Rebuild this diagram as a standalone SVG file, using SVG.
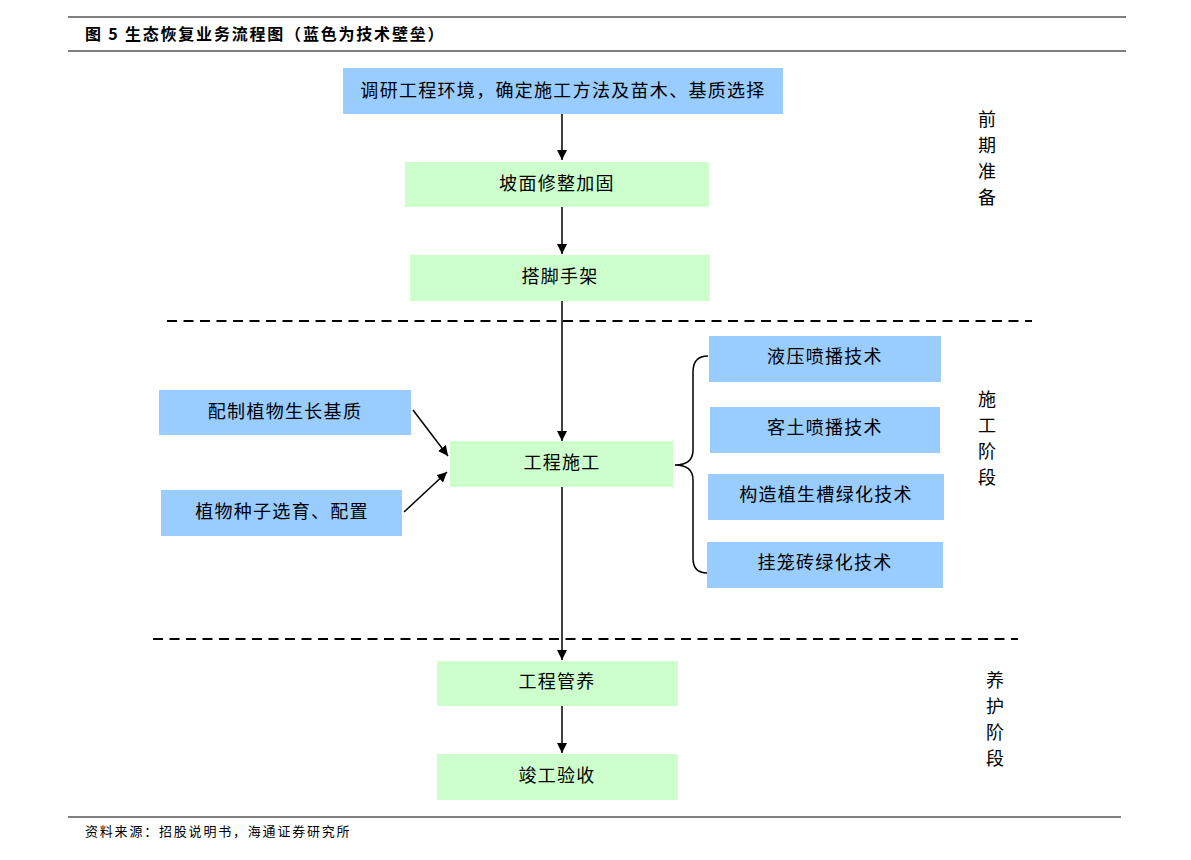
<svg xmlns="http://www.w3.org/2000/svg" width="1191" height="860" viewBox="0 0 1191 860">
<defs>
<marker id="ah" viewBox="0 0 10 10" refX="10" refY="5" markerWidth="10" markerHeight="10" markerUnits="userSpaceOnUse" orient="auto">
<path d="M0,0 L10,5 L0,10 z" fill="#000"/>
</marker>
<style>
.blue{fill:#99CCFF}
.green{fill:#CCFFCC}
.t{font-family:"Noto Sans CJK SC",sans-serif;font-size:18px;fill:#000;text-anchor:middle;letter-spacing:1.3px}
.side{font-family:"Noto Sans CJK SC",sans-serif;font-size:18px;fill:#000;text-anchor:middle}
.ln{stroke:#000;stroke-width:1.5;fill:none}
.dash{stroke:#000;stroke-width:1.8;stroke-dasharray:10,6.5;fill:none}
</style>
</defs>
<rect width="1191" height="860" fill="#fff"/>
<g id="header">
<line x1="68" y1="17" x2="1126" y2="17" stroke="#000" stroke-width="1"/>
<line x1="68" y1="51" x2="1126" y2="51" stroke="#000" stroke-width="1"/>
<text x="85" y="40" font-family="'Noto Sans CJK SC',sans-serif" font-size="16" font-weight="bold" letter-spacing="1.8">图 5 生态恢复业务流程图（蓝色为技术壁垒）</text>
</g>
<g id="footer">
<line x1="68" y1="817" x2="1121" y2="817" stroke="#000" stroke-width="1"/>
<text x="85" y="836" font-family="'Noto Sans CJK SC',sans-serif" font-size="13" letter-spacing="1.8">资料来源：招股说明书，海通证券研究所</text>
</g>
<g id="dividers">
<line class="dash" x1="167" y1="321" x2="1032" y2="321"/>
<line class="dash" x1="153" y1="639" x2="1018" y2="639"/>
</g>
<g id="n1"><rect class="blue" x="343" y="68" width="440" height="46"/><text class="t" x="563" y="97">调研工程环境，确定施工方法及苗木、基质选择</text></g>
<g id="n2"><rect class="green" x="405" y="162" width="304" height="45"/><text class="t" x="557" y="190">坡面修整加固</text></g>
<g id="n3"><rect class="green" x="410" y="255" width="300" height="46"/><text class="t" x="560" y="283">搭脚手架</text></g>
<g id="n4"><rect class="green" x="450" y="441" width="223" height="46"/><text class="t" x="562" y="469">工程施工</text></g>
<g id="n5"><rect class="blue" x="159" y="390" width="252" height="45"/><text class="t" x="285" y="418">配制植物生长基质</text></g>
<g id="n6"><rect class="blue" x="161" y="490" width="241" height="46"/><text class="t" x="282" y="518">植物种子选育、配置</text></g>
<g id="n7"><rect class="blue" x="709" y="336" width="232" height="46"/><text class="t" x="825" y="363">液压喷播技术</text></g>
<g id="n8"><rect class="blue" x="710" y="407" width="230" height="46"/><text class="t" x="825" y="434">客土喷播技术</text></g>
<g id="n9"><rect class="blue" x="708" y="474" width="236" height="46"/><text class="t" x="826" y="501">构造植生槽绿化技术</text></g>
<g id="n10"><rect class="blue" x="707" y="542" width="236" height="46"/><text class="t" x="825" y="569">挂笼砖绿化技术</text></g>
<g id="n11"><rect class="green" x="437" y="661" width="241" height="45"/><text class="t" x="557" y="688">工程管养</text></g>
<g id="n12"><rect class="green" x="437" y="754" width="241" height="46"/><text class="t" x="557" y="782">竣工验收</text></g>
<g id="labels">
<text class="side" x="987" y="126">前</text>
<text class="side" x="987" y="152">期</text>
<text class="side" x="987" y="178">准</text>
<text class="side" x="987" y="204">备</text>
<text class="side" x="987" y="406">施</text>
<text class="side" x="987" y="432">工</text>
<text class="side" x="987" y="458">阶</text>
<text class="side" x="987" y="484">段</text>
<text class="side" x="995" y="687">养</text>
<text class="side" x="995" y="713">护</text>
<text class="side" x="995" y="739">阶</text>
<text class="side" x="995" y="765">段</text>
</g>
<g id="connectors">
<line class="ln" x1="562" y1="114" x2="562" y2="160" marker-end="url(#ah)"/>
<line class="ln" x1="562" y1="207" x2="562" y2="254" marker-end="url(#ah)"/>
<line class="ln" x1="562" y1="301" x2="562" y2="441" marker-end="url(#ah)"/>
<line class="ln" x1="562" y1="487" x2="562" y2="660" marker-end="url(#ah)"/>
<line class="ln" x1="562" y1="706" x2="562" y2="753" marker-end="url(#ah)"/>
<line class="ln" x1="413" y1="410" x2="448" y2="456" marker-end="url(#ah)"/>
<line class="ln" x1="404" y1="512" x2="447" y2="472" marker-end="url(#ah)"/>
<path class="ln" d="M708,356 Q693,356 693,372 L693,450 Q693,465 675,465 Q693,465 693,480 L693,558 Q693,573 707,573"/>
</g>
</svg>
